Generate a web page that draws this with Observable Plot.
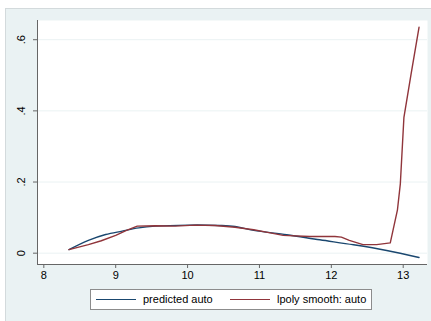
<!DOCTYPE html>
<html>
<head>
<meta charset="utf-8">
<script src="https://cdn.jsdelivr.net/npm/d3@7"></script>
<script src="https://cdn.jsdelivr.net/npm/@observablehq/plot@0.6"></script>
<style>
  html, body { margin: 0; padding: 0; background: #ffffff; }
  body { width: 431px; height: 321px; position: relative; overflow: hidden; font-family: "Liberation Sans", Arial, sans-serif; }
  #panel { position: absolute; left: 5px; top: 8px; width: 430px; height: 320px; background: #eaf2f3; border-top: 1px solid #d3dadc; border-left: 1px solid #d3dadc; }
  #chart { position: absolute; left: 0; top: 0; }
  #legend { position: absolute; left: 90px; top: 289px; width: 280px; height: 19px; background: #ffffff; border: 1px solid #8c8c8c; font-size: 11px; color: #000; }
  .sw { position: absolute; top: 9px; width: 40px; height: 0; border-top: 1.4px solid; }
  .lb { position: absolute; top: 2px; line-height: 15px; white-space: nowrap; }
</style>
</head>
<body>
<div id="panel"></div>
<div id="chart"></div>
<div id="legend"></div>
<script>
// ---- data ----
const predX = [8.35, 8.62, 8.86, 9.09, 9.32, 9.55, 10.01, 10.45, 10.66, 10.92, 11.38, 11.84, 12.31, 12.77, 13.22];
const predY = [0.010, 0.036, 0.0525, 0.062, 0.071, 0.076, 0.079, 0.078, 0.075, 0.064, 0.052, 0.0376, 0.0236, 0.0076, -0.012];

const lpolyX = [8.35, 8.62, 8.80, 9.00, 9.15, 9.30, 9.55, 9.83, 10.10, 10.38, 10.66, 10.92, 11.15, 11.33, 11.70, 12.05, 12.14, 12.25, 12.44, 12.63, 12.82, 12.92, 12.96, 13.01, 13.11, 13.22];
const lpolyY = [0.010, 0.024, 0.035, 0.050, 0.064, 0.076, 0.077, 0.076, 0.079, 0.078, 0.073, 0.066, 0.057, 0.050, 0.047, 0.047, 0.045, 0.036, 0.024, 0.024, 0.029, 0.122, 0.195, 0.382, 0.504, 0.635];

const seriesNames = ["predicted auto", "lpoly smooth: auto"];
const seriesColors = ["#1a476f", "#90353b"];

const xTicks = [8, 9, 10, 11, 12, 13];
const yTicks = [0, 0.2, 0.4, 0.6];
const yTickLabels = ["0", ".2", ".4", ".6"];
const xDomain = [7.912, 13.338];
const yDomain = [-0.0318, 0.654];

const pred = predX.map((x, i) => ({x, y: predY[i]}));
const lpoly = lpolyX.map((x, i) => ({x, y: lpolyY[i]}));
const yLab = yTicks.map((v, i) => ({v, t: yTickLabels[i]}));

const plot = Plot.plot({
  width: 431,
  height: 321,
  marginLeft: 37,
  marginRight: 4,
  marginTop: 20,
  marginBottom: 57,
  style: { background: "transparent", fontFamily: "Liberation Sans, Arial, sans-serif", fontSize: "11px", color: "#000" },
  x: { domain: xDomain },
  y: { domain: yDomain },
  marks: [
    Plot.frame({ fill: "#ffffff", stroke: "none" }),
    Plot.gridY(yTicks, { stroke: "#eaf2f3", strokeOpacity: 1, strokeWidth: 1 }),
    Plot.ruleX([xDomain[0]], { stroke: "#666", strokeWidth: 1 }),
    Plot.ruleY([yDomain[0]], { stroke: "#666", strokeWidth: 1 }),
    Plot.axisX(xTicks, { tickSize: 4, tickPadding: 3, stroke: "#666", fill: "#000", label: null, tickFormat: d => String(d) }),
    Plot.axisY(yTicks, { tickSize: 4, stroke: "#666", label: null, tickFormat: () => "" }),
    Plot.text(yLab, { frameAnchor: "left", y: "v", text: "t", rotate: -90, dx: -16.5, fill: "#000", fontSize: 11, textAnchor: "middle", lineAnchor: "middle" }),
    Plot.line(pred, { x: "x", y: "y", stroke: seriesColors[0], strokeWidth: 1.4, curve: "catmull-rom" }),
    Plot.line(lpoly, { x: "x", y: "y", stroke: seriesColors[1], strokeWidth: 1.4, curve: "linear" })
  ]
});
document.getElementById("chart").appendChild(plot);

// legend
const lg = document.getElementById("legend");
const swX = [5, 139];
const lbX = [52, 186];
seriesNames.forEach((name, i) => {
  const s = document.createElement("div");
  s.className = "sw";
  s.style.left = swX[i] + "px";
  s.style.borderTopColor = seriesColors[i];
  lg.appendChild(s);
  const l = document.createElement("div");
  l.className = "lb";
  l.style.left = lbX[i] + "px";
  l.textContent = name;
  lg.appendChild(l);
});
</script>
</body>
</html>
